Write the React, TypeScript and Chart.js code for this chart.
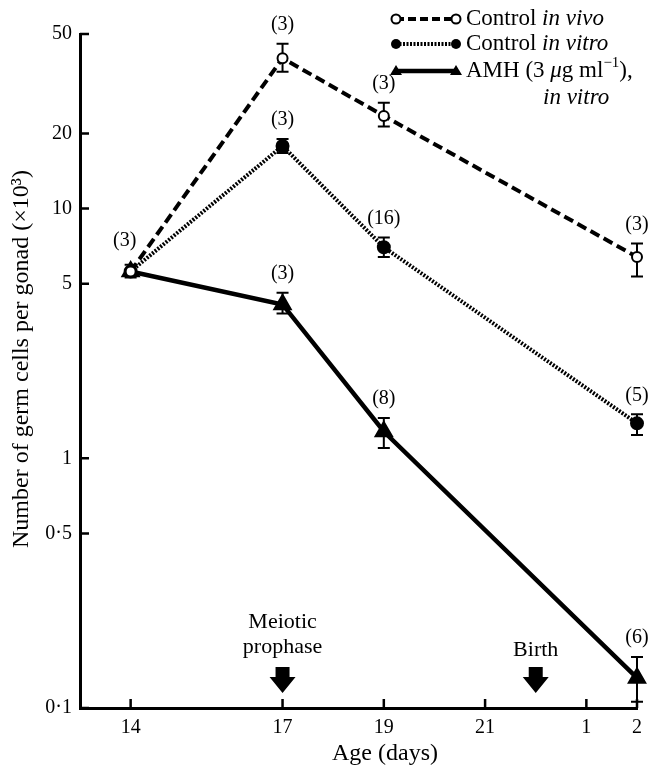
import React, { useEffect, useRef } from 'react';
import { Chart, registerables } from 'chart.js';

Chart.register(...registerables);

// ---- data ----
const dayValues = [14, 17, 19, 24];
const xTickValues = [14, 17, 19, 21, 23, 24];
const xTickLabels = ['14', '17', '19', '21', '1', '2'];
const yTickValues = [0.1, 0.5, 1, 5, 10, 20, 50];
const yTickLabels = ['0·1', '0·5', '1', '5', '10', '20', '50'];

const vivoMean = [5.6, 40, 23.5, 6.4];
const vivoLow = [5.3, 35.3, 21.3, 5.35];
const vivoHigh = [5.95, 45.7, 26.5, 7.25];
const vivoN = ['(3)', '(3)', '(3)', '(3)'];

const vitroMean = [5.6, 17.8, 7.0, 1.38];
const vitroLow = [5.6, 16.7, 6.4, 1.24];
const vitroHigh = [5.6, 19.0, 7.65, 1.5];
const vitroN = ['', '(3)', '(16)', '(5)'];

const amhMean = [5.6, 4.13, 1.28, 0.132];
const amhLow = [5.6, 3.8, 1.1, 0.106];
const amhHigh = [5.6, 4.6, 1.45, 0.16];
const amhN = ['', '(3)', '(8)', '(6)'];

const meioticDay = 17;
const birthDay = 22;

const FONT = '"Liberation Serif", "Times New Roman", serif';

const pts = (vals: number[]) => dayValues.map((d, i) => ({ x: d, y: vals[i] }));

function drawArrow(ctx: CanvasRenderingContext2D, cx: number, top: number) {
  ctx.beginPath();
  ctx.moveTo(cx - 7, top);
  ctx.lineTo(cx + 7, top);
  ctx.lineTo(cx + 7, top + 10);
  ctx.lineTo(cx + 13, top + 10);
  ctx.lineTo(cx, top + 26);
  ctx.lineTo(cx - 13, top + 10);
  ctx.lineTo(cx - 7, top + 10);
  ctx.closePath();
  ctx.fill();
}

function drawMarker(ctx: CanvasRenderingContext2D, kind: string, x: number, y: number) {
  ctx.beginPath();
  if (kind === 'open') {
    ctx.arc(x, y, 4.5, 0, Math.PI * 2);
    ctx.fillStyle = '#fff';
    ctx.fill();
    ctx.lineWidth = 2;
    ctx.stroke();
  } else if (kind === 'filled') {
    ctx.arc(x, y, 5, 0, Math.PI * 2);
    ctx.fillStyle = '#000';
    ctx.fill();
  } else {
    ctx.moveTo(x, y - 6);
    ctx.lineTo(x + 6, y + 4);
    ctx.lineTo(x - 6, y + 4);
    ctx.closePath();
    ctx.fillStyle = '#000';
    ctx.fill();
  }
}

const LEG = 23;

function drawRich(ctx: CanvasRenderingContext2D, parts: [string, string][], x: number, y: number) {
  let cx = x;
  for (const [txt, style] of parts) {
    if (style === 'sup') {
      ctx.font = `15px ${FONT}`;
      ctx.fillText(txt, cx, y - 8);
    } else {
      ctx.font = `${style === 'i' ? 'italic ' : ''}${LEG}px ${FONT}`;
      ctx.fillText(txt, cx, y);
    }
    cx += ctx.measureText(txt).width;
  }
}

const overlay = {
  id: 'overlay',
  beforeDatasetsDraw(chart: any) {
    const { ctx, scales } = chart;
    const xs = scales.x, ys = scales.y;
    ctx.save();
    ctx.strokeStyle = '#000';
    ctx.lineWidth = 2;
    const series: [number[], number[]][] = [[vivoLow, vivoHigh], [vitroLow, vitroHigh], [amhLow, amhHigh]];
    series.forEach(([lo, hi]) => {
      dayValues.forEach((d, i) => {
        const px = xs.getPixelForValue(d);
        const yt = ys.getPixelForValue(hi[i]);
        const yb = ys.getPixelForValue(lo[i]);
        if (yb - yt < 1) return;
        ctx.beginPath();
        ctx.moveTo(px, yt); ctx.lineTo(px, yb);
        ctx.moveTo(px - 6, yt); ctx.lineTo(px + 6, yt);
        ctx.moveTo(px - 6, yb); ctx.lineTo(px + 6, yb);
        ctx.stroke();
      });
    });
    ctx.restore();
  },
  afterDraw(chart: any) {
    const { ctx, scales, chartArea } = chart;
    const xs = scales.x, ys = scales.y;
    ctx.save();
    ctx.fillStyle = '#000';
    ctx.strokeStyle = '#000';

    // inside tick marks
    ctx.lineWidth = 2.5;
    ctx.beginPath();
    xTickValues.forEach((v) => {
      const px = xs.getPixelForValue(v);
      ctx.moveTo(px, chartArea.bottom);
      ctx.lineTo(px, chartArea.bottom - 9);
    });
    yTickValues.forEach((v) => {
      const py = ys.getPixelForValue(v);
      ctx.moveTo(chartArea.left, py);
      ctx.lineTo(chartArea.left + 9, py);
    });
    ctx.stroke();

    // sample-size labels
    ctx.font = `20px ${FONT}`;
    ctx.textAlign = 'center';
    ctx.textBaseline = 'middle';
    const labels: [number[], string[]][] = [[vivoHigh, vivoN], [vitroHigh, vitroN], [amhHigh, amhN]];
    labels.forEach(([hi, n]) => {
      dayValues.forEach((d, i) => {
        if (!n[i]) return;
        const px = xs.getPixelForValue(d) + (i === 0 ? -6 : 0);
        const py = ys.getPixelForValue(hi[i]) - (i === 0 ? 24 : 19);
        ctx.fillText(n[i], px, py);
      });
    });

    // arrows + annotations
    const mx = xs.getPixelForValue(meioticDay);
    const bx = xs.getPixelForValue(birthDay);
    const arrowTop = chartArea.bottom - 41;
    drawArrow(ctx, mx, arrowTop);
    drawArrow(ctx, bx, arrowTop);
    ctx.font = `22px ${FONT}`;
    ctx.fillText('Meiotic', mx, chartArea.bottom - 86);
    ctx.fillText('prophase', mx, chartArea.bottom - 61);
    ctx.fillText('Birth', bx, chartArea.bottom - 58);

    // axis titles
    ctx.font = `24px ${FONT}`;
    ctx.fillText('Age (days)', 385, 754);
    ctx.save();
    ctx.translate(22, 359);
    ctx.rotate(-Math.PI / 2);
    ctx.fillText('Number of germ cells per gonad (×10³)', 0, 0);
    ctx.restore();

    // legend
    const lx0 = 396, lx1 = 456, tx = 466;
    const rows = [19, 44, 71];
    ctx.lineCap = 'butt';
    ctx.lineWidth = 4;
    ctx.setLineDash([8, 4]);
    ctx.beginPath(); ctx.moveTo(lx0, rows[0]); ctx.lineTo(lx1, rows[0]); ctx.stroke();
    ctx.setLineDash([2, 1.5]);
    ctx.beginPath(); ctx.moveTo(lx0, rows[1]); ctx.lineTo(lx1, rows[1]); ctx.stroke();
    ctx.setLineDash([]);
    ctx.lineWidth = 4.5;
    ctx.beginPath(); ctx.moveTo(lx0, rows[2]); ctx.lineTo(lx1, rows[2]); ctx.stroke();
    drawMarker(ctx, 'open', lx0, rows[0]); drawMarker(ctx, 'open', lx1, rows[0]);
    drawMarker(ctx, 'filled', lx0, rows[1]); drawMarker(ctx, 'filled', lx1, rows[1]);
    drawMarker(ctx, 'tri', lx0, rows[2]); drawMarker(ctx, 'tri', lx1, rows[2]);
    ctx.fillStyle = '#000';
    ctx.textAlign = 'left';
    ctx.textBaseline = 'middle';
    drawRich(ctx, [['Control ', 'n'], ['in vivo', 'i']], tx, rows[0]);
    drawRich(ctx, [['Control ', 'n'], ['in vitro', 'i']], tx, rows[1]);
    drawRich(ctx, [['AMH (3 ', 'n'], ['μ', 'i'], ['g ml', 'n'], ['−1', 'sup'], ['),', 'n']], tx, rows[2]);
    drawRich(ctx, [['in vitro', 'i']], 543, 98);

    ctx.restore();
  },
};

export default function App() {
  const ref = useRef<HTMLCanvasElement>(null);
  useEffect(() => {
    document.body.style.margin = '0';
    const canvas = ref.current!;
    const chart = new Chart(canvas, {
      type: 'line',
      data: {
        datasets: [
          {
            label: 'Control in vivo',
            data: pts(vivoMean),
            borderColor: '#000',
            borderWidth: 4,
            borderDash: [10, 5],
            pointStyle: 'circle',
            pointRadius: 5,
            pointBorderWidth: 2,
            pointBackgroundColor: '#fff',
            pointBorderColor: '#000',
            clip: false,
            order: 1,
          },
          {
            label: 'Control in vitro',
            data: pts(vitroMean),
            borderColor: '#000',
            borderWidth: 4,
            borderDash: [2, 1.5],
            pointStyle: 'circle',
            pointRadius: 5,
            pointBackgroundColor: '#000',
            pointBorderColor: '#000',
            clip: false,
            order: 2,
          },
          {
            label: 'AMH (3 μg ml⁻¹) in vitro',
            data: pts(amhMean),
            borderColor: '#000',
            borderWidth: 4.5,
            pointStyle: 'triangle',
            pointRadius: 7,
            pointBackgroundColor: '#000',
            pointBorderColor: '#000',
            clip: false,
            order: 3,
          },
        ],
      },
      options: {
        responsive: false,
        animation: false,
        layout: { padding: { top: 34, right: 23, left: 0, bottom: 0 } },
        plugins: { legend: { display: false }, tooltip: { enabled: false } },
        scales: {
          x: {
            type: 'linear',
            min: 13,
            max: 24,
            afterBuildTicks: (s: any) => { s.ticks = xTickValues.map((v) => ({ value: v })); },
            afterFit: (s: any) => { s.height = 60; },
            ticks: {
              autoSkip: false,
              maxRotation: 0,
              padding: 8,
              color: '#000',
              font: { family: FONT, size: 20 },
              callback: (_v: any, i: number) => xTickLabels[i],
            },
            grid: { display: false, drawTicks: false },
            border: { display: true, color: '#000', width: 3 },
          },
          y: {
            type: 'logarithmic',
            min: 0.1,
            max: 50,
            afterBuildTicks: (s: any) => { s.ticks = yTickValues.map((v) => ({ value: v })); },
            afterFit: (s: any) => { s.width = 80; },
            ticks: {
              autoSkip: false,
              padding: 8,
              color: '#000',
              font: { family: FONT, size: 20 },
              callback: (_v: any, i: number) => yTickLabels[i],
            },
            grid: { display: false, drawTicks: false },
            border: { display: true, color: '#000', width: 3 },
          },
        },
      },
      plugins: [overlay],
    });
    return () => chart.destroy();
  }, []);
  return <canvas ref={ref} width={660} height={768} style={{ display: 'block' }} />;
}
